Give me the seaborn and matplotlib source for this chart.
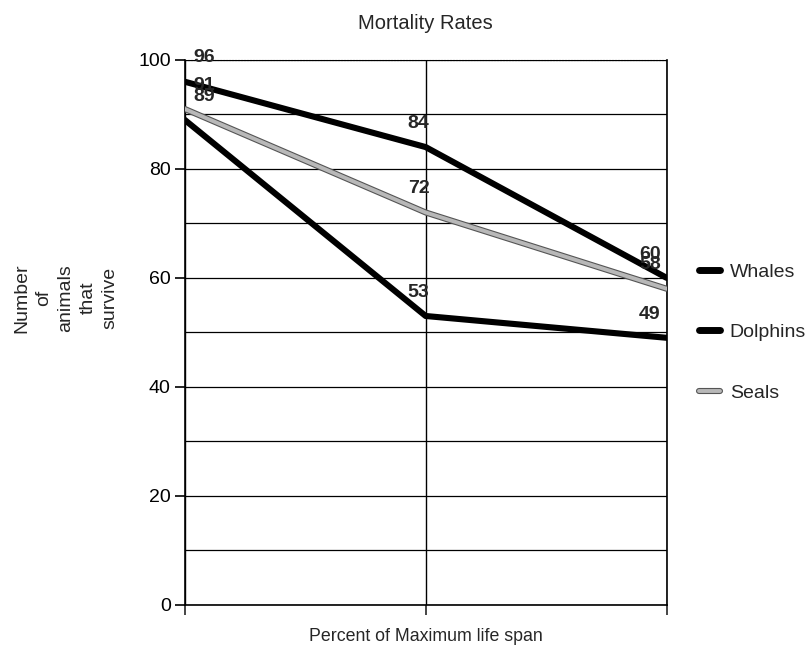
import pandas as pd
import numpy as np
import seaborn as sns
import matplotlib.pyplot as plt
import matplotlib.patheffects as pe

# values
stages = [0, 1, 2]
whales = [96, 84, 60]
dolphins = [89, 53, 49]
seals = [91, 72, 58]
series = ['Whales', 'Dolphins', 'Seals']

df = pd.DataFrame({
    'stage': stages * 3,
    'value': whales + dolphins + seals,
    'animal': [s for s in series for _ in stages],
})

sns.set_style('white')
plt.rcParams['font.family'] = ['Liberation Sans', 'DejaVu Sans']

fig, ax = plt.subplots(figsize=(8.1, 6.51), dpi=100)
fig.subplots_adjust(left=0.228, right=0.823, top=0.908, bottom=0.071)

clrs = {'Whales': 'black', 'Dolphins': 'black', 'Seals': '#b8b8b8'}
sns.lineplot(data=df, x='stage', y='value', hue='animal', palette=clrs,
             linewidth=4.4, ax=ax, legend=False, zorder=3)
for ln, name in zip(ax.lines, series):
    if name == 'Seals':
        ln.set_linewidth(2.8)
        ln.set_path_effects([pe.Stroke(linewidth=4.4, foreground='#555555'), pe.Normal()])

# data labels above points (horizontal nudge per column like the original)
nudge = [14, -5, -12]
for name, vals in zip(series, [whales, dolphins, seals]):
    for x, v in zip(stages, vals):
        ax.annotate(str(v), (x, v), xytext=(nudge[x], 11), textcoords='offset points',
                    ha='center', va='bottom', fontsize=14, fontweight='bold', zorder=5)

ax.set_xlim(0, 2)
ax.set_ylim(0, 100)
ax.set_yticks(np.arange(0, 101, 20))
ax.set_yticks(np.arange(0, 101, 10), minor=True)
ax.set_xticks([0, 1, 2])
ax.set_xticklabels([])
ax.grid(which='both', axis='y', color='black', linewidth=0.9)
ax.grid(which='major', axis='x', color='black', linewidth=1.0)
for s in ax.spines.values():
    s.set_color('black')
    s.set_linewidth(1.2)
ax.spines['top'].set_linewidth(0.8)
ax.spines['top'].set_linestyle(':')
ax.tick_params(axis='y', which='major', direction='out', length=7, width=1.2,
               labelsize=14, colors='black', left=True, pad=3)
ax.tick_params(axis='x', which='major', direction='out', length=7, width=1.2, bottom=True)

ax.set_title('Mortality Rates', fontsize=14.5, pad=22)
ax.set_xlabel('Percent of Maximum life span', fontsize=12.8, labelpad=6)
ax.set_ylabel('')
fig.text(66 / 810, 1 - 298 / 651, 'Number\nof\nanimals\nthat\nsurvive', rotation=90,
         ha='center', va='center', multialignment='center', fontsize=14, linespacing=1.4)

# legend outside on the right
handles = []
for name in series:
    if name == 'Seals':
        h, = ax.plot([], [], color='#b8b8b8', linewidth=2.8,
                     path_effects=[pe.Stroke(linewidth=4.4, foreground='#555555'), pe.Normal()])
    else:
        h, = ax.plot([], [], color='black', linewidth=5, solid_capstyle='round')
    handles.append(h)
ax.legend(handles, series, loc='center left', bbox_to_anchor=(1.03, 0.5), frameon=False,
          fontsize=14, handlelength=1.1, handletextpad=0.5, labelspacing=2.2)

plt.savefig('out.png', dpi=100)
